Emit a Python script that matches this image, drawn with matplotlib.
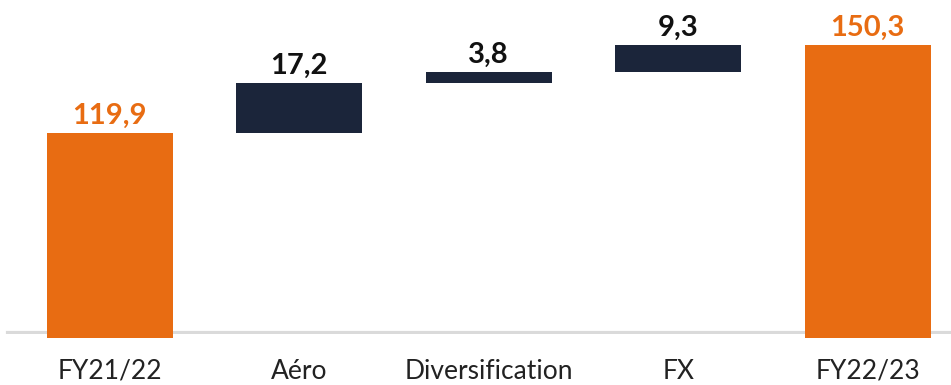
import matplotlib.pyplot as plt

categories = ["FY21/22", "Aéro", "Diversification", "FX", "FY22/23"]
values = [119.9, 17.2, 3.8, 9.3, 150.3]
labels = ["119,9", "17,2", "3,8", "9,3", "150,3"]
is_total = [True, False, False, False, True]

orange = "#E86C12"
navy = "#1B253A"

plt.rcParams['font.family'] = ['Lato', 'DejaVu Sans']

fig = plt.figure(figsize=(9.51, 3.85), dpi=100)
ax = fig.add_axes([0, 0.1325, 1, 0.8675])

y_low = 50.5
running = 0.0
for i, (cat, v, lab, tot) in enumerate(zip(categories, values, labels, is_total)):
    if tot:
        bottom, top, col, tcol = y_low - 1.5, v, orange, orange
        running = v
    else:
        bottom, top, col, tcol = running, running + v, navy, "#111111"
        running = running + v
    ax.bar(i, top - bottom, bottom=bottom, width=0.665, color=col,
           clip_on=False, zorder=3)
    ax.annotate(lab, (i, top), xytext=(0, 3), textcoords="offset points",
                ha="center", va="bottom", fontsize=21, fontweight="bold",
                color=tcol)

ax.axhline(y_low + 0.3, xmin=0.008, xmax=1, color="#DADADA", lw=3, zorder=1)

ax.set_xlim(-0.58, 4.44)
ax.set_ylim(y_low, 165.8)
ax.set_xticks(range(len(categories)))
ax.set_xticklabels(categories, fontsize=19, color="#222222")
ax.tick_params(axis="x", length=0, pad=18)
ax.set_yticks([])
for s in ax.spines.values():
    s.set_visible(False)

fig.savefig("out.png", dpi=100)
